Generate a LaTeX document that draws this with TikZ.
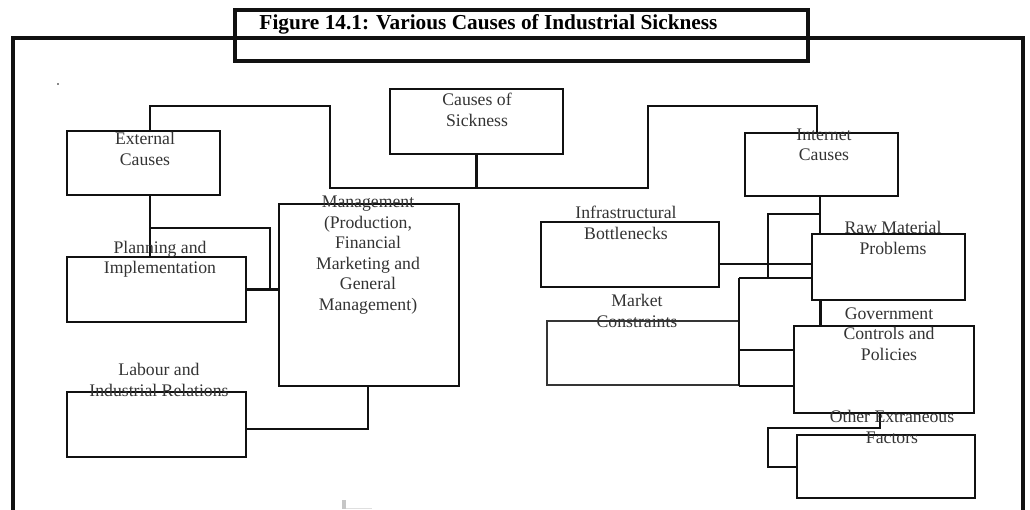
\documentclass[tikz,border=0pt]{standalone}
\usepackage{fontspec}
\setmainfont{Liberation Serif}
\definecolor{txtgray}{HTML}{333333}
\definecolor{linek}{HTML}{111111}
\begin{document}
\begin{tikzpicture}[x=1pt,y=-1pt,
  box/.style={draw=linek, line width=2.7pt, inner sep=0pt, fill=none},
  thinbox/.style={draw=linek!85, line width=2pt, inner sep=0pt},
  conn/.style={draw=linek, line width=2.3pt, line join=miter},
  txt/.style={text=txtgray, font=\fontsize{17.7}{20.5}\selectfont, align=center, inner sep=0pt},
  ttl/.style={text=black, font=\fontsize{21.3}{24}\selectfont\bfseries, inner sep=0pt, anchor=base}]
\useasboundingbox (0,0) rectangle (1030,509);
% outer frame
\draw[line width=3.2pt, linek] (13,515) -- (13,38) -- (1023,38) -- (1023,515);
% title
\node[box, line width=3.2pt, minimum width=573pt, minimum height=51pt] (title) at (521.5,35.5) {};
\node[ttl] (ttltext) at (488.5,29) {Figure 14.1: Various Causes of Industrial Sickness};
% stray marks
\fill[linek] (58,84) circle (0.8pt);
\fill[gray!45] (342,500) rectangle (346,509);
\draw[gray!25, line width=1pt] (346,508) -- (372,508);
% boxes
\node[box, minimum width=173pt, minimum height=65pt] (cos) at (476.5,121.5) {};
\node[box, minimum width=153pt, minimum height=64pt] (ext) at (143.5,163) {};
\node[box, minimum width=153pt, minimum height=63pt] (int) at (821.5,164.5) {};
\node[box, line width=2.9pt, minimum width=180pt, minimum height=182pt] (mgmt) at (369,295) {};
\node[box, minimum width=179pt, minimum height=65pt] (plan) at (156.5,289.5) {};
\node[box, minimum width=179pt, minimum height=65pt] (lab) at (156.5,424.5) {};
\node[box, minimum width=178pt, minimum height=65pt] (infra) at (630,254.5) {};
\node[box, minimum width=153pt, minimum height=66pt] (raw) at (888.5,267) {};
\node[thinbox, minimum width=192pt, minimum height=64pt] (mkt) at (643,353) {};
\node[box, line width=2.9pt, minimum width=180pt, minimum height=87pt] (gov) at (884,369.5) {};
\node[box, minimum width=178pt, minimum height=63pt] (oth) at (886,466.5) {};
% junction coordinates
\coordinate (t1) at (150,106);
\coordinate (t2) at (330,106);
\coordinate (t3) at (330,188);
\coordinate (t4) at (648,188);
\coordinate (t5) at (648,106);
\coordinate (t6) at (817,106);
\coordinate (p1) at (150,228);
\coordinate (p2) at (270,228);
\coordinate (l1) at (368,429);
\coordinate (r1) at (820,214);
\coordinate (r2) at (768,214);
\coordinate (r3) at (768,278);
\coordinate (r4) at (739,278);
\coordinate (r5) at (739,386);
\coordinate (r6) at (739,350);
\coordinate (h1) at (719,264);
\coordinate (r7) at (880,428);
\coordinate (r8) at (768,428);
\coordinate (r9) at (768,467);
% connectors
\draw[conn] (t1 |- ext.north) -- (t1) -- (t2) -- (t3) -- (t4) -- (t5) -- (t6) -- (t6 |- int.north);
\draw[conn] (cos.south) -- (cos.south |- t3);
\draw[conn] (t1 |- ext.south) -- (t1 |- plan.north);
\draw[conn] (p1) -- (p2) -- (p2 |- plan.east);
\draw[conn] (plan.east) -- (plan.east -| mgmt.west);
\draw[conn] (lab.east |- l1) -- (l1) -- (l1 |- mgmt.south);
\draw[conn] (r1 |- int.south) -- (r1 |- raw.north);
\draw[conn] (r1) -- (r2) -- (r3);
\draw[conn] (infra.east |- h1) -- (raw.west |- h1);
\draw[conn] (r4) -- (raw.west |- r4);
\draw[conn] (r4) -- (r5);
\draw[conn] (r6) -- (gov.west |- r6);
\draw[conn] (r5) -- (gov.west |- r5);
\draw[conn, line width=3pt] (r1 |- raw.south) -- (r1 |- gov.north);
\draw[conn] (r7 |- gov.south) -- (r7) -- (r8) -- (r9) -- (oth.west |- r9);
% texts
\node[txt] (coslbl) at (477,110) {Causes of\\Sickness};
\node[txt] (extlbl) at (145,149) {External\\Causes};
\node[txt] (intlbl) at (824,145) {Internet\\Causes};
\node[txt] (mgmtlbl) at (368,255) {Management\\(Production,\\Financial\\Marketing and\\General\\Management)};
\node[txt] (planlbl) at (160,259) {Planning and\\Implementation};
\node[txt] (lablbl) at (159,380) {Labour and\\Industrial Relations};
\node[txt] (infralbl) at (626,223) {Infrastructural\\Bottlenecks};
\node[txt] (rawlbl) at (893,238) {Raw Material\\Problems};
\node[txt] (mktlbl) at (637,311) {Market\\Constraints};
\node[txt] (govlbl) at (889,334) {Government\\Controls and\\Policies};
\node[txt] (othlbl) at (892,427) {Other Extraneous\\Factors};
\end{tikzpicture}
\end{document}
